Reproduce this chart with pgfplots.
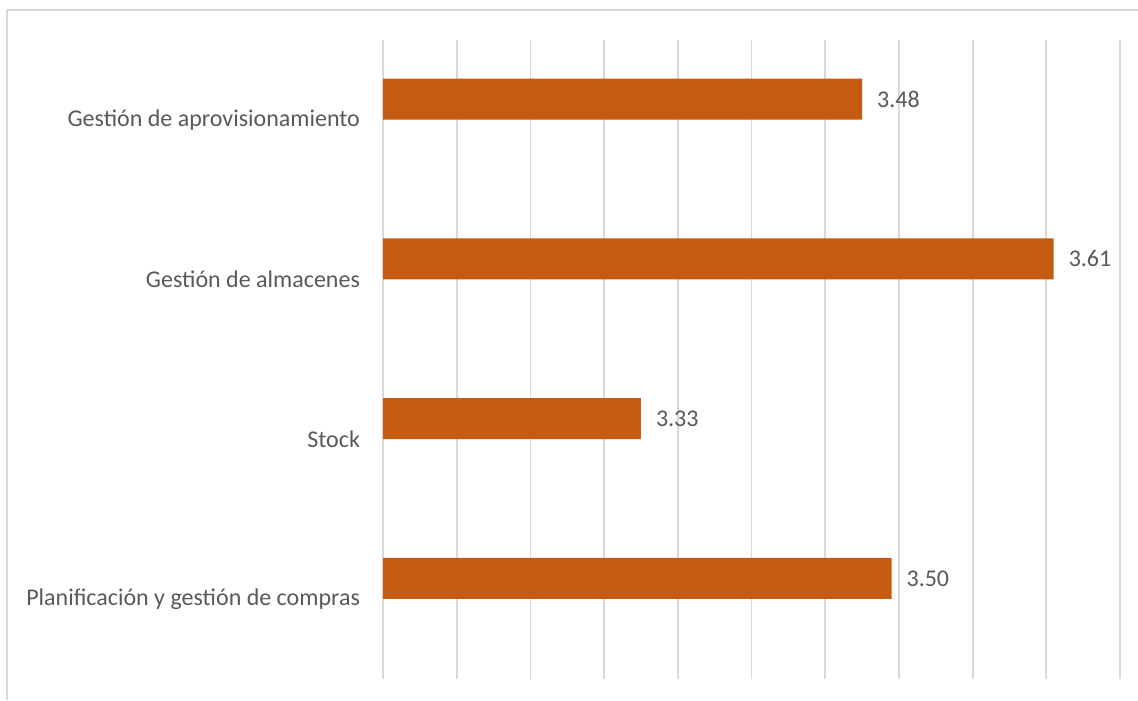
\documentclass[border=0pt]{standalone}
\usepackage{fontspec}
\setmainfont{Carlito}
\usepackage{pgfplots}
\pgfplotsset{compat=1.18}
\definecolor{barc}{HTML}{C55A11}
\definecolor{gridc}{HTML}{D9D9D9}
\definecolor{txtc}{HTML}{595959}
\begin{document}
\begin{tikzpicture}
\path[use as bounding box] (0pt,0pt) rectangle (569pt,350pt);
\draw[gridc,line width=1pt] (3.5pt,0pt) -- (3.5pt,345pt) -- (569pt,345pt);
\begin{axis}[
  at={(191.5pt,10.5pt)}, anchor=south west,
  scale only axis, width=368.5pt, height=319.5pt,
  xbar, bar width=0.256, bar shift=0.13,
  xmin=3.155, xmax=3.655,
  ymin=-0.5, ymax=3.5,
  xtick={3.155,3.205,3.255,3.305,3.355,3.405,3.455,3.505,3.555,3.605,3.655},
  xticklabels={},
  xmajorgrids, major grid style={gridc,line width=0.9pt},
  ytick={0,1,2,3},
  yticklabels={Planificación y gestión de compras,Stock,Gestión de almacenes,Gestión de aprovisionamiento},
  yticklabel style={font=\fontsize{12}{14}\selectfont,text=txtc,xshift=-8pt},
  major tick length=0pt,
  axis line style={draw=none},
  nodes near coords,
  nodes near coords style={font=\fontsize{12}{14}\selectfont,text=txtc,anchor=west,xshift=4pt},
  point meta=explicit symbolic,
  clip=false,
]
\addplot[fill=barc,draw=none] coordinates {
  (3.50,0) [3.50]
  (3.33,1) [3.33]
  (3.61,2) [3.61]
  (3.48,3) [3.48]
};
\end{axis}
\end{tikzpicture}
\end{document}
